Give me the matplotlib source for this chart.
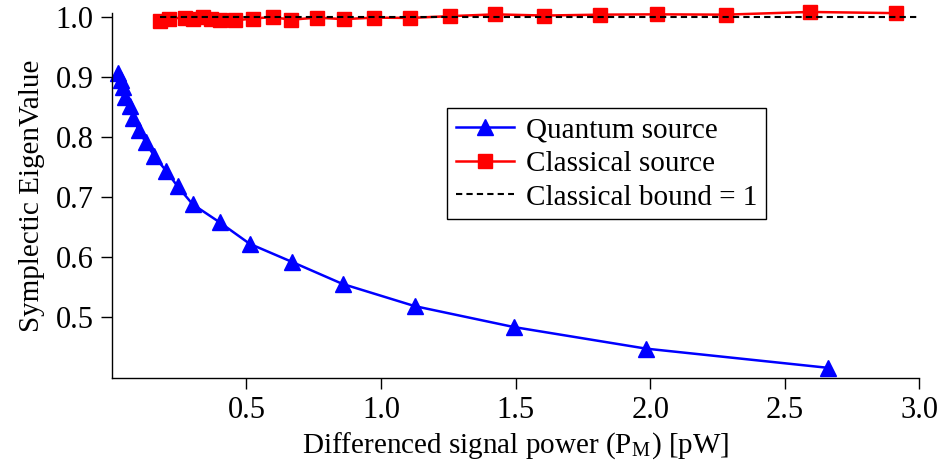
import matplotlib
matplotlib.use("Agg")
import matplotlib.pyplot as plt

plt.rcParams['font.family'] = ['Liberation Serif', 'DejaVu Serif']
plt.rcParams['mathtext.fontset'] = 'stix'

q_x = [0.024, 0.035, 0.043, 0.050, 0.069, 0.080, 0.099, 0.125, 0.158, 0.203,
       0.244, 0.300, 0.400, 0.512, 0.668, 0.857, 1.125, 1.494, 1.985, 2.660]
q_y = [0.907, 0.895, 0.883, 0.867, 0.852, 0.832, 0.812, 0.792, 0.768, 0.743,
       0.718, 0.688, 0.658, 0.622, 0.592, 0.555, 0.518, 0.483, 0.447, 0.415]

c_x = [0.179, 0.214, 0.270, 0.300, 0.340, 0.369, 0.400, 0.458, 0.526, 0.598,
       0.664, 0.762, 0.861, 0.975, 1.107, 1.257, 1.424, 1.606, 1.815, 2.025,
       2.282, 2.592, 2.915]
c_y = [0.994, 0.998, 0.9995, 0.998, 1.0005, 0.998, 0.996, 0.995, 0.998, 1.0005,
       0.996, 0.9995, 0.997, 0.9995, 0.999, 1.002, 1.005, 1.003, 1.0045, 1.005,
       1.0045, 1.009, 1.007]

bound_x = [0.179, 3.0]
bound_y = [1.0, 1.0]

x_ticks = [0.5, 1.0, 1.5, 2.0, 2.5, 3.0]
y_ticks = [0.5, 0.6, 0.7, 0.8, 0.9, 1.0]

fig = plt.figure(figsize=(9.4, 4.63), dpi=100)
ax = fig.add_axes([0.119, 0.1836, 0.859, 0.788])

ax.plot(q_x, q_y, color='blue', lw=1.8, marker='^', ms=11, label='Quantum source', clip_on=False)
ax.plot(c_x, c_y, color='red', lw=1.8, marker='s', ms=10, label='Classical source', clip_on=False)
ax.plot(bound_x, bound_y, color='black', lw=1.5, dashes=(3, 2), label='Classical bound = 1', clip_on=False)

ax.set_xlim(0, 3.0)
ax.set_ylim(0.398, 1.007)
ax.set_xticks(x_ticks)
ax.set_yticks(y_ticks)
ax.set_xticklabels([f'{v:.1f}' for v in x_ticks])
ax.set_yticklabels([f'{v:.1f}' for v in y_ticks])
for s in ['top', 'right']:
    ax.spines[s].set_visible(False)
for s in ['left', 'bottom']:
    ax.spines[s].set_linewidth(1.0)
ax.tick_params(direction='out', length=8, width=1, labelsize=22, pad=5)
ax.set_xlabel('Differenced signal power (P$_\\mathregular{M}$) [pW]', fontsize=21, labelpad=4)
ax.set_ylabel('Symplectic EigenValue', fontsize=21, labelpad=8)

leg = ax.legend(loc='upper left', bbox_to_anchor=(0.415, 0.74), fontsize=21, frameon=True,
                fancybox=False, edgecolor='black', framealpha=1, handlelength=2.0,
                borderpad=0.3, labelspacing=0.25, handletextpad=0.4, borderaxespad=0)
leg.get_frame().set_linewidth(1.0)

fig.savefig('out.png', dpi=100)
